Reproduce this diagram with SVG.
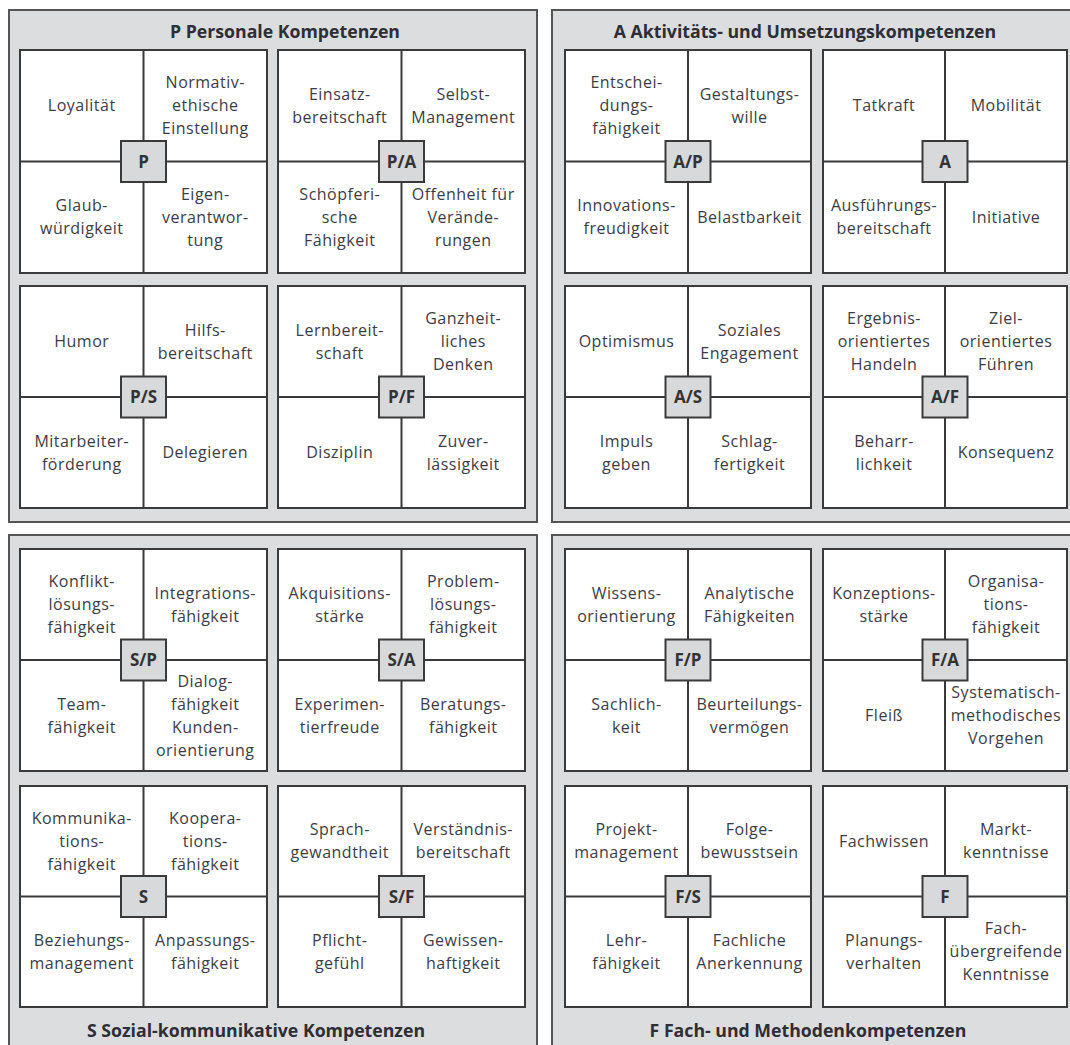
<svg xmlns="http://www.w3.org/2000/svg" width="1070" height="1045" viewBox="0 0 1070 1045">
<style>
.pn{fill:#dcdddf;stroke:#555;stroke-width:2}
.blk{fill:#fff;stroke:#3a3a3a;stroke-width:2}
.ln{stroke:#3a3a3a;stroke-width:2;fill:none}
.bx{fill:#d8d9db;stroke:#3a3a3a;stroke-width:2}
.t{font-family:"Open Sans","Noto Sans",sans-serif;font-size:16px;fill:#3c3c48;text-anchor:middle;letter-spacing:0.5px}
.lb{font-family:"Open Sans","Noto Sans",sans-serif;font-size:17px;font-weight:bold;fill:#333;text-anchor:middle}
.ti{font-family:"Open Sans","Noto Sans",sans-serif;font-size:17.7px;font-weight:bold;fill:#2e2e36;text-anchor:middle}
</style>
<rect width="1070" height="1045" fill="#fff"/>
<g id="panel-P"><rect class="pn" x="9" y="10" width="528" height="512"/><text class="ti" x="285" y="38">P Personale Kompetenzen</text></g>
<g id="panel-A"><rect class="pn" x="552" y="10" width="530" height="512"/><text class="ti" x="805" y="38">A Aktivitäts- und Umsetzungskompetenzen</text></g>
<g id="panel-S"><rect class="pn" x="9" y="535" width="528" height="520"/><text class="ti" x="256" y="1037">S Sozial-kommunikative Kompetenzen</text></g>
<g id="panel-F"><rect class="pn" x="552" y="535" width="530" height="520"/><text class="ti" x="808" y="1037">F Fach- und Methodenkompetenzen</text></g>

<g id="connectors"></g>

<!-- Row 0 -->
<g id="node-P">
<rect class="blk" x="20" y="50" width="247" height="223"/>
<path class="ln" d="M143.5 50V273M20 161.5H267"/>
<text class="t" x="81.75" y="111.25">Loyalität</text>
<text class="t" x="205.25" y="88.25">Normativ-<tspan x="205.25" dy="23">ethische</tspan><tspan x="205.25" dy="23">Einstellung</tspan></text>
<text class="t" x="81.75" y="211.25">Glaub-<tspan x="81.75" dy="23">würdigkeit</tspan></text>
<text class="t" x="205.25" y="199.75">Eigen-<tspan x="205.25" dy="23">verantwor-</tspan><tspan x="205.25" dy="23">tung</tspan></text>
<rect class="bx" x="121" y="141" width="45" height="41"/>
<text class="lb" x="143.5" y="167.5">P</text>
</g>
<g id="node-PA">
<rect class="blk" x="278" y="50" width="247" height="223"/>
<path class="ln" d="M401.5 50V273M278 161.5H525"/>
<text class="t" x="339.75" y="99.75">Einsatz-<tspan x="339.75" dy="23">bereitschaft</tspan></text>
<text class="t" x="463.25" y="99.75">Selbst-<tspan x="463.25" dy="23">Management</tspan></text>
<text class="t" x="339.75" y="199.75">Schöpferi-<tspan x="339.75" dy="23">sche</tspan><tspan x="339.75" dy="23">Fähigkeit</tspan></text>
<text class="t" x="463.25" y="199.75">Offenheit für<tspan x="463.25" dy="23">Verände-</tspan><tspan x="463.25" dy="23">rungen</tspan></text>
<rect class="bx" x="379" y="141" width="45" height="41"/>
<text class="lb" x="401.5" y="167.5">P/A</text>
</g>
<g id="node-AP">
<rect class="blk" x="565" y="50" width="246" height="223"/>
<path class="ln" d="M688 50V273M565 161.5H811"/>
<text class="t" x="626.5" y="88.25">Entschei-<tspan x="626.5" dy="23">dungs-</tspan><tspan x="626.5" dy="23">fähigkeit</tspan></text>
<text class="t" x="749.5" y="99.75">Gestaltungs-<tspan x="749.5" dy="23">wille</tspan></text>
<text class="t" x="626.5" y="211.25">Innovations-<tspan x="626.5" dy="23">freudigkeit</tspan></text>
<text class="t" x="749.5" y="222.75">Belastbarkeit</text>
<rect class="bx" x="665.5" y="141" width="45" height="41"/>
<text class="lb" x="688" y="167.5">A/P</text>
</g>
<g id="node-A">
<rect class="blk" x="823" y="50" width="244" height="223"/>
<path class="ln" d="M945 50V273M823 161.5H1067"/>
<text class="t" x="884" y="111.25">Tatkraft</text>
<text class="t" x="1006" y="111.25">Mobilität</text>
<text class="t" x="884" y="211.25">Ausführungs-<tspan x="884" dy="23">bereitschaft</tspan></text>
<text class="t" x="1006" y="222.75">Initiative</text>
<rect class="bx" x="922.5" y="141" width="45" height="41"/>
<text class="lb" x="945" y="167.5">A</text>
</g>

<!-- Row 1 -->
<g id="node-PS">
<rect class="blk" x="20" y="286" width="247" height="222"/>
<path class="ln" d="M143.5 286V508M20 397H267"/>
<text class="t" x="81.75" y="347">Humor</text>
<text class="t" x="205.25" y="335.5">Hilfs-<tspan x="205.25" dy="23">bereitschaft</tspan></text>
<text class="t" x="81.75" y="446.5">Mitarbeiter-<tspan x="81.75" dy="23">förderung</tspan></text>
<text class="t" x="205.25" y="458">Delegieren</text>
<rect class="bx" x="121" y="376.5" width="45" height="41"/>
<text class="lb" x="143.5" y="403">P/S</text>
</g>
<g id="node-PF">
<rect class="blk" x="278" y="286" width="247" height="222"/>
<path class="ln" d="M401.5 286V508M278 397H525"/>
<text class="t" x="339.75" y="335.5">Lernbereit-<tspan x="339.75" dy="23">schaft</tspan></text>
<text class="t" x="463.25" y="324">Ganzheit-<tspan x="463.25" dy="23">liches</tspan><tspan x="463.25" dy="23">Denken</tspan></text>
<text class="t" x="339.75" y="458">Disziplin</text>
<text class="t" x="463.25" y="446.5">Zuver-<tspan x="463.25" dy="23">lässigkeit</tspan></text>
<rect class="bx" x="379" y="376.5" width="45" height="41"/>
<text class="lb" x="401.5" y="403">P/F</text>
</g>
<g id="node-AS">
<rect class="blk" x="565" y="286" width="246" height="222"/>
<path class="ln" d="M688 286V508M565 397H811"/>
<text class="t" x="626.5" y="347">Optimismus</text>
<text class="t" x="749.5" y="335.5">Soziales<tspan x="749.5" dy="23">Engagement</tspan></text>
<text class="t" x="626.5" y="446.5">Impuls<tspan x="626.5" dy="23">geben</tspan></text>
<text class="t" x="749.5" y="446.5">Schlag-<tspan x="749.5" dy="23">fertigkeit</tspan></text>
<rect class="bx" x="665.5" y="376.5" width="45" height="41"/>
<text class="lb" x="688" y="403">A/S</text>
</g>
<g id="node-AF">
<rect class="blk" x="823" y="286" width="244" height="222"/>
<path class="ln" d="M945 286V508M823 397H1067"/>
<text class="t" x="884" y="324">Ergebnis-<tspan x="884" dy="23">orientiertes</tspan><tspan x="884" dy="23">Handeln</tspan></text>
<text class="t" x="1006" y="324">Ziel-<tspan x="1006" dy="23">orientiertes</tspan><tspan x="1006" dy="23">Führen</tspan></text>
<text class="t" x="884" y="446.5">Beharr-<tspan x="884" dy="23">lichkeit</tspan></text>
<text class="t" x="1006" y="458">Konsequenz</text>
<rect class="bx" x="922.5" y="376.5" width="45" height="41"/>
<text class="lb" x="945" y="403">A/F</text>
</g>

<!-- Row 2 -->
<g id="node-SP">
<rect class="blk" x="20" y="549" width="247" height="222"/>
<path class="ln" d="M143.5 549V771M20 660H267"/>
<text class="t" x="81.75" y="587">Konflikt-<tspan x="81.75" dy="23">lösungs-</tspan><tspan x="81.75" dy="23">fähigkeit</tspan></text>
<text class="t" x="205.25" y="598.5">Integrations-<tspan x="205.25" dy="23">fähigkeit</tspan></text>
<text class="t" x="81.75" y="709.5">Team-<tspan x="81.75" dy="23">fähigkeit</tspan></text>
<text class="t" x="205.25" y="686.5">Dialog-<tspan x="205.25" dy="23">fähigkeit</tspan><tspan x="205.25" dy="23">Kunden-</tspan><tspan x="205.25" dy="23">orientierung</tspan></text>
<rect class="bx" x="121" y="639.5" width="45" height="41"/>
<text class="lb" x="143.5" y="666">S/P</text>
</g>
<g id="node-SA">
<rect class="blk" x="278" y="549" width="247" height="222"/>
<path class="ln" d="M401.5 549V771M278 660H525"/>
<text class="t" x="339.75" y="598.5">Akquisitions-<tspan x="339.75" dy="23">stärke</tspan></text>
<text class="t" x="463.25" y="587">Problem-<tspan x="463.25" dy="23">lösungs-</tspan><tspan x="463.25" dy="23">fähigkeit</tspan></text>
<text class="t" x="339.75" y="709.5">Experimen-<tspan x="339.75" dy="23">tierfreude</tspan></text>
<text class="t" x="463.25" y="709.5">Beratungs-<tspan x="463.25" dy="23">fähigkeit</tspan></text>
<rect class="bx" x="379" y="639.5" width="45" height="41"/>
<text class="lb" x="401.5" y="666">S/A</text>
</g>
<g id="node-FP">
<rect class="blk" x="565" y="549" width="246" height="222"/>
<path class="ln" d="M688 549V771M565 660H811"/>
<text class="t" x="626.5" y="598.5">Wissens-<tspan x="626.5" dy="23">orientierung</tspan></text>
<text class="t" x="749.5" y="598.5">Analytische<tspan x="749.5" dy="23">Fähigkeiten</tspan></text>
<text class="t" x="626.5" y="709.5">Sachlich-<tspan x="626.5" dy="23">keit</tspan></text>
<text class="t" x="749.5" y="709.5">Beurteilungs-<tspan x="749.5" dy="23">vermögen</tspan></text>
<rect class="bx" x="665.5" y="639.5" width="45" height="41"/>
<text class="lb" x="688" y="666">F/P</text>
</g>
<g id="node-FA">
<rect class="blk" x="823" y="549" width="244" height="222"/>
<path class="ln" d="M945 549V771M823 660H1067"/>
<text class="t" x="884" y="598.5">Konzeptions-<tspan x="884" dy="23">stärke</tspan></text>
<text class="t" x="1006" y="587">Organisa-<tspan x="1006" dy="23">tions-</tspan><tspan x="1006" dy="23">fähigkeit</tspan></text>
<text class="t" x="884" y="721">Fleiß</text>
<text class="t" x="1006" y="698">Systematisch-<tspan x="1006" dy="23">methodisches</tspan><tspan x="1006" dy="23">Vorgehen</tspan></text>
<rect class="bx" x="922.5" y="639.5" width="45" height="41"/>
<text class="lb" x="945" y="666">F/A</text>
</g>

<!-- Row 3 -->
<g id="node-S">
<rect class="blk" x="20" y="786" width="247" height="221"/>
<path class="ln" d="M143.5 786V1007M20 896.5H267"/>
<text class="t" x="81.75" y="823.75">Kommunika-<tspan x="81.75" dy="23">tions-</tspan><tspan x="81.75" dy="23">fähigkeit</tspan></text>
<text class="t" x="205.25" y="823.75">Koopera-<tspan x="205.25" dy="23">tions-</tspan><tspan x="205.25" dy="23">fähigkeit</tspan></text>
<text class="t" x="81.75" y="945.75">Beziehungs-<tspan x="81.75" dy="23">management</tspan></text>
<text class="t" x="205.25" y="945.75">Anpassungs-<tspan x="205.25" dy="23">fähigkeit</tspan></text>
<rect class="bx" x="121" y="876" width="45" height="41"/>
<text class="lb" x="143.5" y="902.5">S</text>
</g>
<g id="node-SF">
<rect class="blk" x="278" y="786" width="247" height="221"/>
<path class="ln" d="M401.5 786V1007M278 896.5H525"/>
<text class="t" x="339.75" y="835.25">Sprach-<tspan x="339.75" dy="23">gewandtheit</tspan></text>
<text class="t" x="463.25" y="835.25">Verständnis-<tspan x="463.25" dy="23">bereitschaft</tspan></text>
<text class="t" x="339.75" y="945.75">Pflicht-<tspan x="339.75" dy="23">gefühl</tspan></text>
<text class="t" x="463.25" y="945.75">Gewissen-<tspan x="463.25" dy="23">haftigkeit</tspan></text>
<rect class="bx" x="379" y="876" width="45" height="41"/>
<text class="lb" x="401.5" y="902.5">S/F</text>
</g>
<g id="node-FS">
<rect class="blk" x="565" y="786" width="246" height="221"/>
<path class="ln" d="M688 786V1007M565 896.5H811"/>
<text class="t" x="626.5" y="835.25">Projekt-<tspan x="626.5" dy="23">management</tspan></text>
<text class="t" x="749.5" y="835.25">Folge-<tspan x="749.5" dy="23">bewusstsein</tspan></text>
<text class="t" x="626.5" y="945.75">Lehr-<tspan x="626.5" dy="23">fähigkeit</tspan></text>
<text class="t" x="749.5" y="945.75">Fachliche<tspan x="749.5" dy="23">Anerkennung</tspan></text>
<rect class="bx" x="665.5" y="876" width="45" height="41"/>
<text class="lb" x="688" y="902.5">F/S</text>
</g>
<g id="node-F">
<rect class="blk" x="823" y="786" width="244" height="221"/>
<path class="ln" d="M945 786V1007M823 896.5H1067"/>
<text class="t" x="884" y="846.75">Fachwissen</text>
<text class="t" x="1006" y="835.25">Markt-<tspan x="1006" dy="23">kenntnisse</tspan></text>
<text class="t" x="884" y="945.75">Planungs-<tspan x="884" dy="23">verhalten</tspan></text>
<text class="t" x="1006" y="934.25">Fach-<tspan x="1006" dy="23">übergreifende</tspan><tspan x="1006" dy="23">Kenntnisse</tspan></text>
<rect class="bx" x="922.5" y="876" width="45" height="41"/>
<text class="lb" x="945" y="902.5">F</text>
</g>
</svg>
